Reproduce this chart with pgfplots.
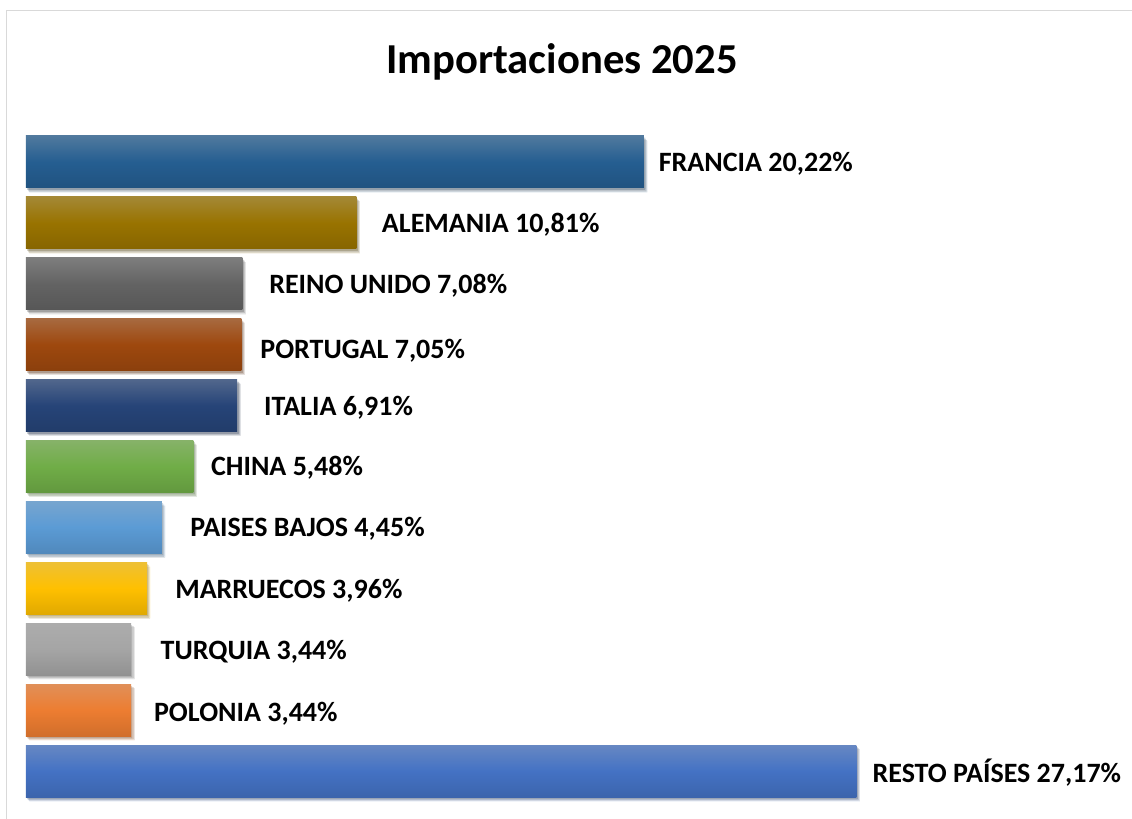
\documentclass[border=0pt]{standalone}
\usepackage{fontspec}
\setmainfont{Carlito}
\usepackage{pgfplots}
\pgfplotsset{compat=1.18}
\usetikzlibrary{shadows}
\definecolor{cFR}{HTML}{255E91}
\definecolor{cAL}{HTML}{997300}
\definecolor{cRU}{HTML}{636363}
\definecolor{cPT}{HTML}{9E480E}
\definecolor{cIT}{HTML}{264478}
\definecolor{cCN}{HTML}{70AD47}
\definecolor{cPB}{HTML}{5B9BD5}
\definecolor{cMA}{HTML}{FFC000}
\definecolor{cTR}{HTML}{A5A5A5}
\definecolor{cPL}{HTML}{ED7D31}
\definecolor{cRE}{HTML}{4472C4}
\definecolor{cBorder}{HTML}{D9D9D9}
\newcommand\mybar[6]{%
  \addplot[xbar, bar shift=0pt, draw=none,
    top color=#3!72!lightgray, bottom color=#3!88!black, middle color=#3,
    drop shadow={shadow xshift=2.6pt, shadow yshift=-3.2pt, opacity=0.07, fill=black},
    drop shadow={shadow xshift=1.8pt, shadow yshift=-2.4pt, opacity=0.09, fill=black},
    drop shadow={shadow xshift=1.0pt, shadow yshift=-1.5pt, opacity=0.12, fill=black},
    nodes near coords={#4},
    nodes near coords style={text=black, font=\bfseries\fontsize{21}{21}\selectfont, anchor=west, inner sep=0pt, xshift=#5, yshift=#6}]
    coordinates {(#1,#2)};
}
\begin{document}
\begin{tikzpicture}
\useasboundingbox (0,0) rectangle (849pt,613.5pt);
\draw[cBorder, line width=1.3pt] (4.9pt,-5pt) -- (4.9pt,605.6pt) -- (860pt,605.6pt);
\node[font=\bfseries\fontsize{32}{32}\selectfont] at (421.5pt,567pt) {Importaciones 2025};
\begin{axis}[
  at={(19.5pt,12.4pt)}, anchor=south west,
  scale only axis, width=687.6pt, height=502.5pt,
  hide axis, clip=false,
  xmin=0, xmax=30, ymin=-0.5, ymax=10.5, y dir=reverse,
  bar width=0.854,
]
\mybar{20.22}{0}{cFR}{FRANCIA 20,22\%}{11pt}{-1pt}
\mybar{10.81}{1}{cAL}{ALEMANIA 10,81\%}{19pt}{-1.2pt}
\mybar{7.08}{2}{cRU}{REINO UNIDO 7,08\%}{20pt}{-1.5pt}
\mybar{7.05}{3}{cPT}{PORTUGAL 7,05\%}{14pt}{-4.5pt}
\mybar{6.91}{4}{cIT}{ITALIA 6,91\%}{20pt}{-1.5pt}
\mybar{5.48}{5}{cCN}{CHINA 5,48\%}{13pt}{-1pt}
\mybar{4.45}{6}{cPB}{PAISES BAJOS 4,45\%}{21pt}{-1pt}
\mybar{3.96}{7}{cMA}{MARRUECOS 3,96\%}{21pt}{-1.5pt}
\mybar{3.44}{8}{cTR}{TURQUIA 3,44\%}{22pt}{-2.2pt}
\mybar{3.44}{9}{cPL}{POLONIA 3,44\%}{17pt}{-3pt}
\mybar{27.17}{10}{cRE}{RESTO PAÍSES 27,17\%}{12pt}{-1.5pt}
\end{axis}
\end{tikzpicture}
\end{document}
